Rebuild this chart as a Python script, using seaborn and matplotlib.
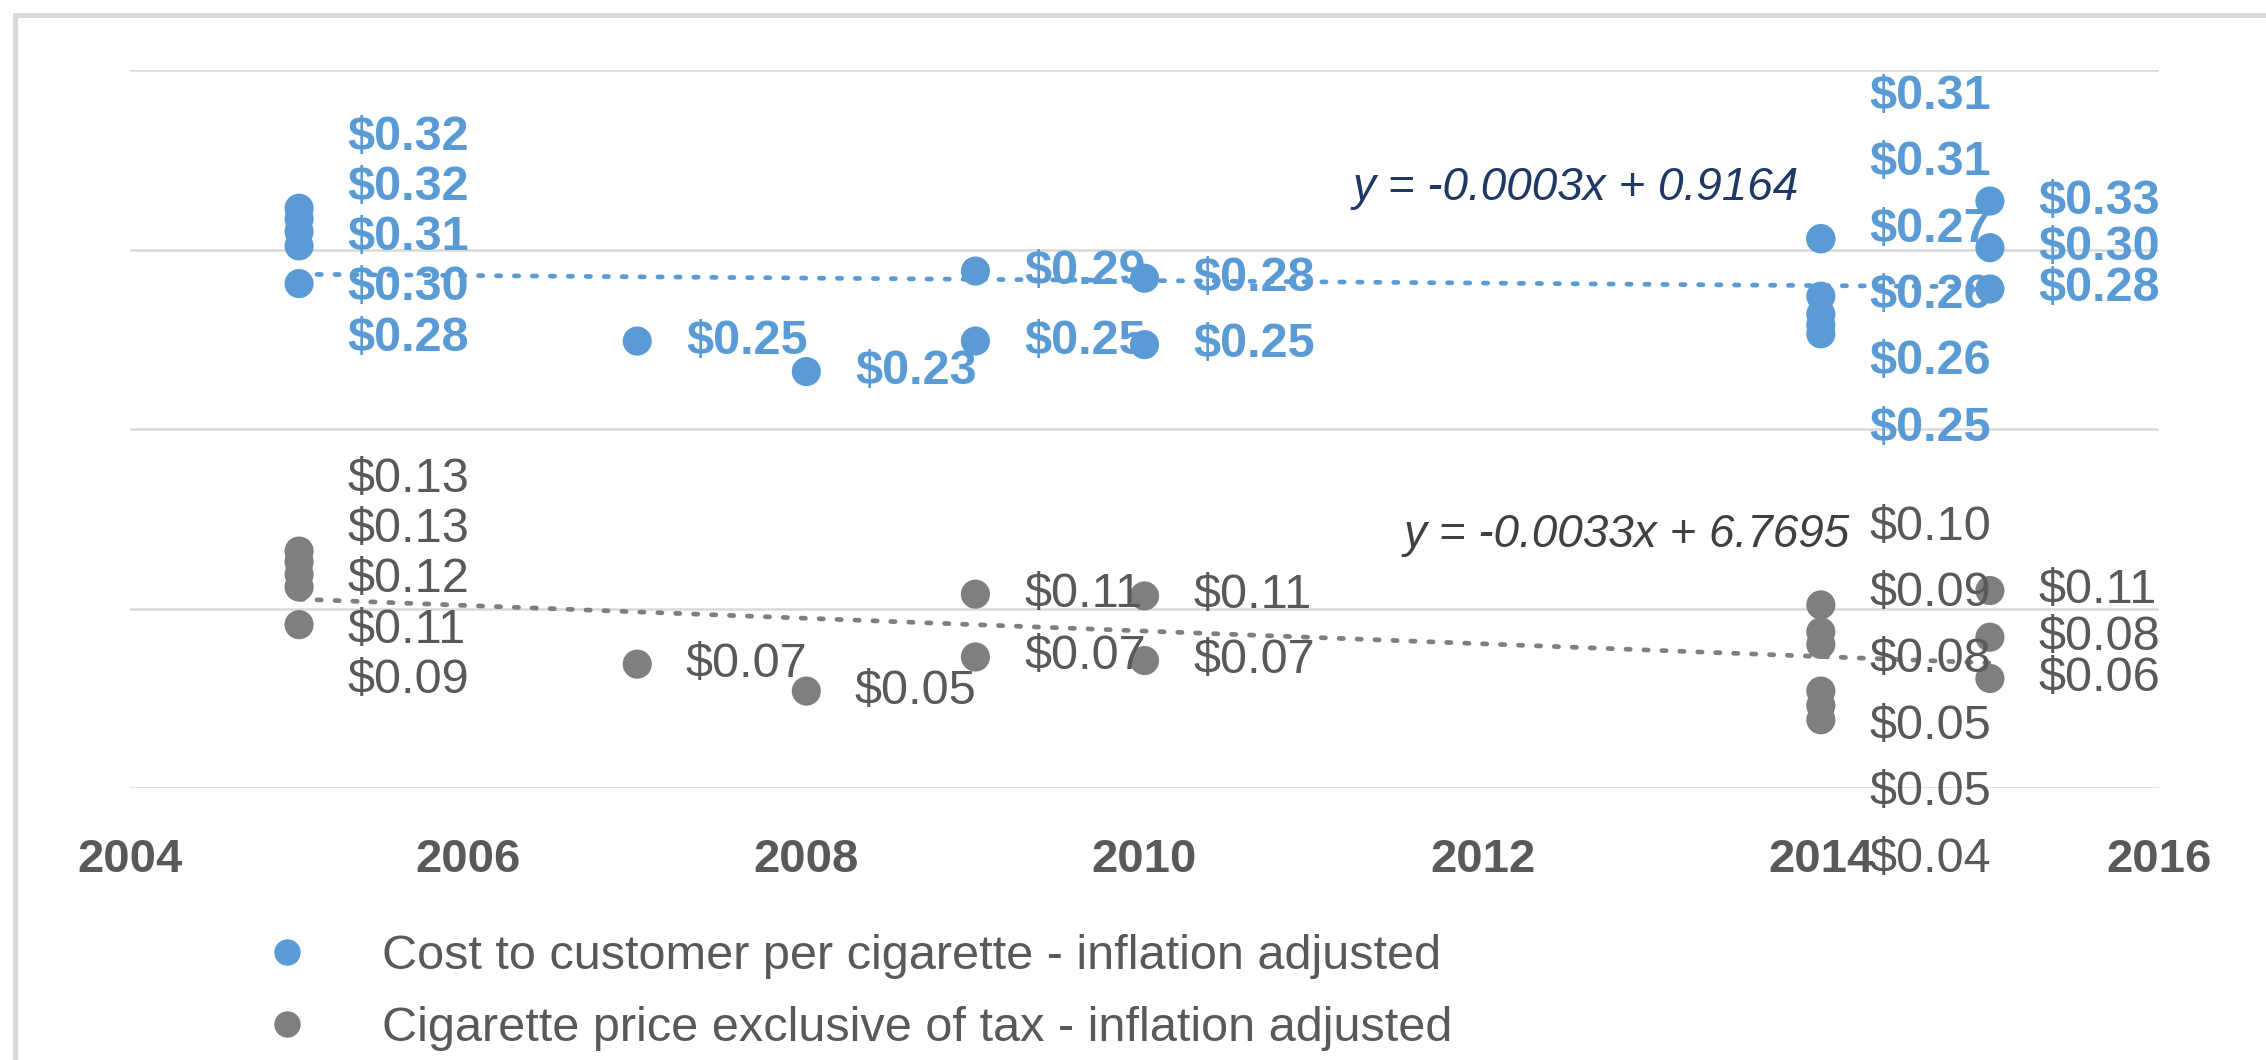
import numpy as np
import pandas as pd
import matplotlib.pyplot as plt
import matplotlib.transforms as mtransforms
from matplotlib.lines import Line2D
from matplotlib.patches import Rectangle
import seaborn as sns

# ---- data ----
cost_years = [2005, 2005, 2005, 2005, 2005, 2007, 2008, 2009, 2009, 2010, 2010,
              2014, 2014, 2014, 2014, 2014, 2014, 2015, 2015, 2015]
cost_values = [0.323, 0.317, 0.310, 0.302, 0.281, 0.249, 0.232, 0.288, 0.249, 0.284, 0.247,
               0.306, 0.306, 0.274, 0.264, 0.258, 0.253, 0.327, 0.301, 0.278]

price_years = [2005, 2005, 2005, 2005, 2005, 2007, 2008, 2009, 2009, 2010, 2010,
               2014, 2014, 2014, 2014, 2014, 2014, 2015, 2015, 2015]
price_values = [0.132, 0.126, 0.119, 0.112, 0.091, 0.069, 0.054, 0.108, 0.073, 0.107, 0.071,
                0.102, 0.087, 0.080, 0.054, 0.046, 0.038, 0.110, 0.084, 0.061]

series_names = ['Cost to customer per cigarette - inflation adjusted',
                'Cigarette price exclusive of tax - inflation adjusted']
trend_labels = ['y = -0.0003x + 0.9164', 'y = -0.0033x + 6.7695']
x_ticks = [2004, 2006, 2008, 2010, 2012, 2014, 2016]
y_grid = [0.0, 0.1, 0.2, 0.3, 0.4]

# ---- styling ----
colors = ['#5B9BD5', '#7F7F7F']
label_colors = ['#5B9BD5', '#595959']
label_weights = ['bold', 'normal']
eq_colors = ['#1F3864', '#404040']
eq_pos = [(2012.55, 0.334), (2012.85, 0.141)]
label_gap = {5: 0.028, 6: 0.037}          # spread of stacked data labels
label_shift = {(0, 2014): 0.016, (1, 2014): -0.015}

sns.set_theme(style='white')
plt.rcParams['font.family'] = ['Liberation Sans', 'DejaVu Sans']

df = pd.concat([
    pd.DataFrame({'year': cost_years, 'value': cost_values, 'series': series_names[0]}),
    pd.DataFrame({'year': price_years, 'value': price_values, 'series': series_names[1]}),
], ignore_index=True)

W, H = 2266, 1060
fig = plt.figure(figsize=(W / 100, H / 100), dpi=100)
ax = fig.add_axes([130 / W, 1 - 788 / H, (2159 - 130) / W, (788 - 70) / H])

# outer chart frame (cut off on the right and bottom like the screenshot)
fig.add_artist(Rectangle((15 / W, -0.2), 1.2, 1.2 - 15 / H, transform=fig.transFigure,
                         fill=False, edgecolor='#D9D9D9', lw=3.5, clip_on=False))

sns.scatterplot(data=df, x='year', y='value', hue='series', palette=colors,
                s=440, linewidth=0, legend=False, ax=ax, zorder=3)

for i, name in enumerate(series_names):
    sub = df[df['series'] == name]
    sns.regplot(data=sub, x='year', y='value', scatter=False, ci=None, truncate=True,
                color=colors[i], ax=ax,
                line_kws=dict(linestyle=(0, (0.9, 2.9)), lw=3.4, dash_capstyle='round', zorder=2))

# data labels
offset = mtransforms.offset_copy(ax.transData, fig=fig, x=35, y=0, units='points')
for i, name in enumerate(series_names):
    sub = df[df['series'] == name]
    for year, grp in sub.groupby('year'):
        vals = grp['value'].sort_values(ascending=False).to_numpy()
        n = len(vals)
        if n >= 4:
            centre = vals.mean() + label_shift.get((i, year), 0)
            ys = centre + label_gap[n] * ((n - 1) / 2 - np.arange(n))
        else:
            ys = vals
        for v, y in zip(vals, ys):
            ax.text(year, y, f'${v:.2f}', transform=offset, ha='left', va='center',
                    fontsize=35, color=label_colors[i], fontweight=label_weights[i], zorder=4)

# trendline equations
for i in range(2):
    ax.text(eq_pos[i][0], eq_pos[i][1], trend_labels[i], ha='center', va='center',
            style='italic', fontsize=33, color=eq_colors[i])

ax.set_xlim(2004, 2016)
ax.set_ylim(0, 0.4)
ax.set_xticks(x_ticks)
ax.set_yticks(y_grid)
ax.set_yticklabels([])
ax.set_xlabel('')
ax.set_ylabel('')
ax.tick_params(axis='x', length=0, pad=36, labelsize=34, labelcolor='#595959')
ax.tick_params(axis='y', length=0)
for lab in ax.get_xticklabels():
    lab.set_fontweight('bold')
ax.grid(axis='y', color='#D9D9D9', lw=1.8)
ax.grid(axis='x', visible=False)
ax.set_axisbelow(True)
sns.despine(ax=ax, left=True, bottom=True)

handles = [Line2D([], [], marker='o', ls='', color=c, markersize=18) for c in colors]
ax.legend(handles, series_names, loc='center left', bbox_to_anchor=(0.116, 0.064),
          bbox_transform=fig.transFigure, frameon=False, fontsize=35,
          handlelength=1.0, handletextpad=1.45, labelspacing=0.55,
          borderpad=0, borderaxespad=0, labelcolor='#595959')

fig.savefig('out.png', dpi=100)
